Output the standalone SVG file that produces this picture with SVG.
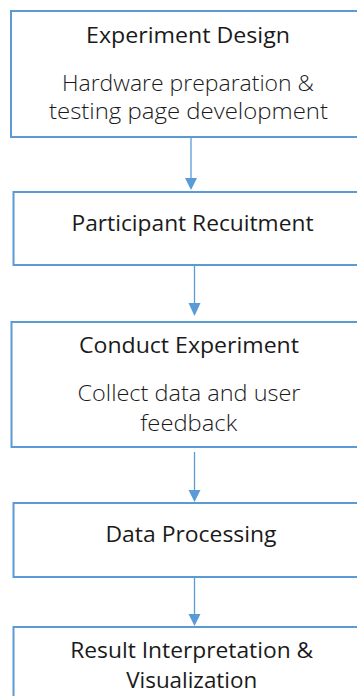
<svg xmlns="http://www.w3.org/2000/svg" width="357" height="696" viewBox="0 0 357 696">
<defs>
<style>
.box{fill:#fff;stroke:#5b9bd5;stroke-width:2}
.t{font-family:"Open Sans","Noto Sans",sans-serif;font-size:21.5px;fill:#1a1a1a;text-anchor:middle}
.h{font-weight:500}
.s{font-weight:300}
.c{stroke:#5b9bd5;stroke-width:1.3;fill:none}
.a{fill:#5b9bd5}
</style>
</defs>
<rect width="357" height="696" fill="#fff"/>
<g id="connectors">
<line class="c" x1="191" y1="138" x2="191" y2="180"/><path class="a" d="M185,178 L197,178 L191,190 Z"/>
<line class="c" x1="194.5" y1="266" x2="194.5" y2="306"/><path class="a" d="M188.5,303 L200.5,303 L194.5,316 Z"/>
<line class="c" x1="194.5" y1="452" x2="194.5" y2="492"/><path class="a" d="M188.5,490 L200.5,490 L194.5,502 Z"/>
<line class="c" x1="194.5" y1="577" x2="194.5" y2="616"/><path class="a" d="M188.5,614 L200.5,614 L194.5,626 Z"/>
</g>
<g id="n1"><rect class="box" x="11" y="11" width="360" height="126"/>
<text class="t h" x="188" y="43" textLength="204" lengthAdjust="spacingAndGlyphs">Experiment Design</text>
<text class="t s" x="188" y="91" textLength="252" lengthAdjust="spacingAndGlyphs">Hardware preparation &amp;</text>
<text class="t s" x="188.5" y="119" textLength="279" lengthAdjust="spacingAndGlyphs">testing page development</text></g>
<g id="n2"><rect class="box" x="13.5" y="192" width="360" height="73"/>
<text class="t h" x="192.5" y="231" textLength="242" lengthAdjust="spacingAndGlyphs">Participant Recuitment</text></g>
<g id="n3"><rect class="box" x="11.5" y="322" width="360" height="125"/>
<text class="t h" x="189" y="353" textLength="220" lengthAdjust="spacingAndGlyphs">Conduct Experiment</text>
<text class="t s" x="189" y="401" textLength="223" lengthAdjust="spacingAndGlyphs">Collect data and user</text>
<text class="t s" x="188.7" y="431" textLength="97" lengthAdjust="spacingAndGlyphs">feedback</text></g>
<g id="n4"><rect class="box" x="13.5" y="503" width="360" height="74"/>
<text class="t h" x="191" y="542" textLength="171" lengthAdjust="spacingAndGlyphs">Data Processing</text></g>
<g id="n5"><rect class="box" x="13.5" y="627" width="360" height="90"/>
<text class="t h" x="191.7" y="658" textLength="243" lengthAdjust="spacingAndGlyphs">Result Interpretation &amp;</text>
<text class="t h" x="191.7" y="688" textLength="131" lengthAdjust="spacingAndGlyphs">Visualization</text></g>
</svg>
